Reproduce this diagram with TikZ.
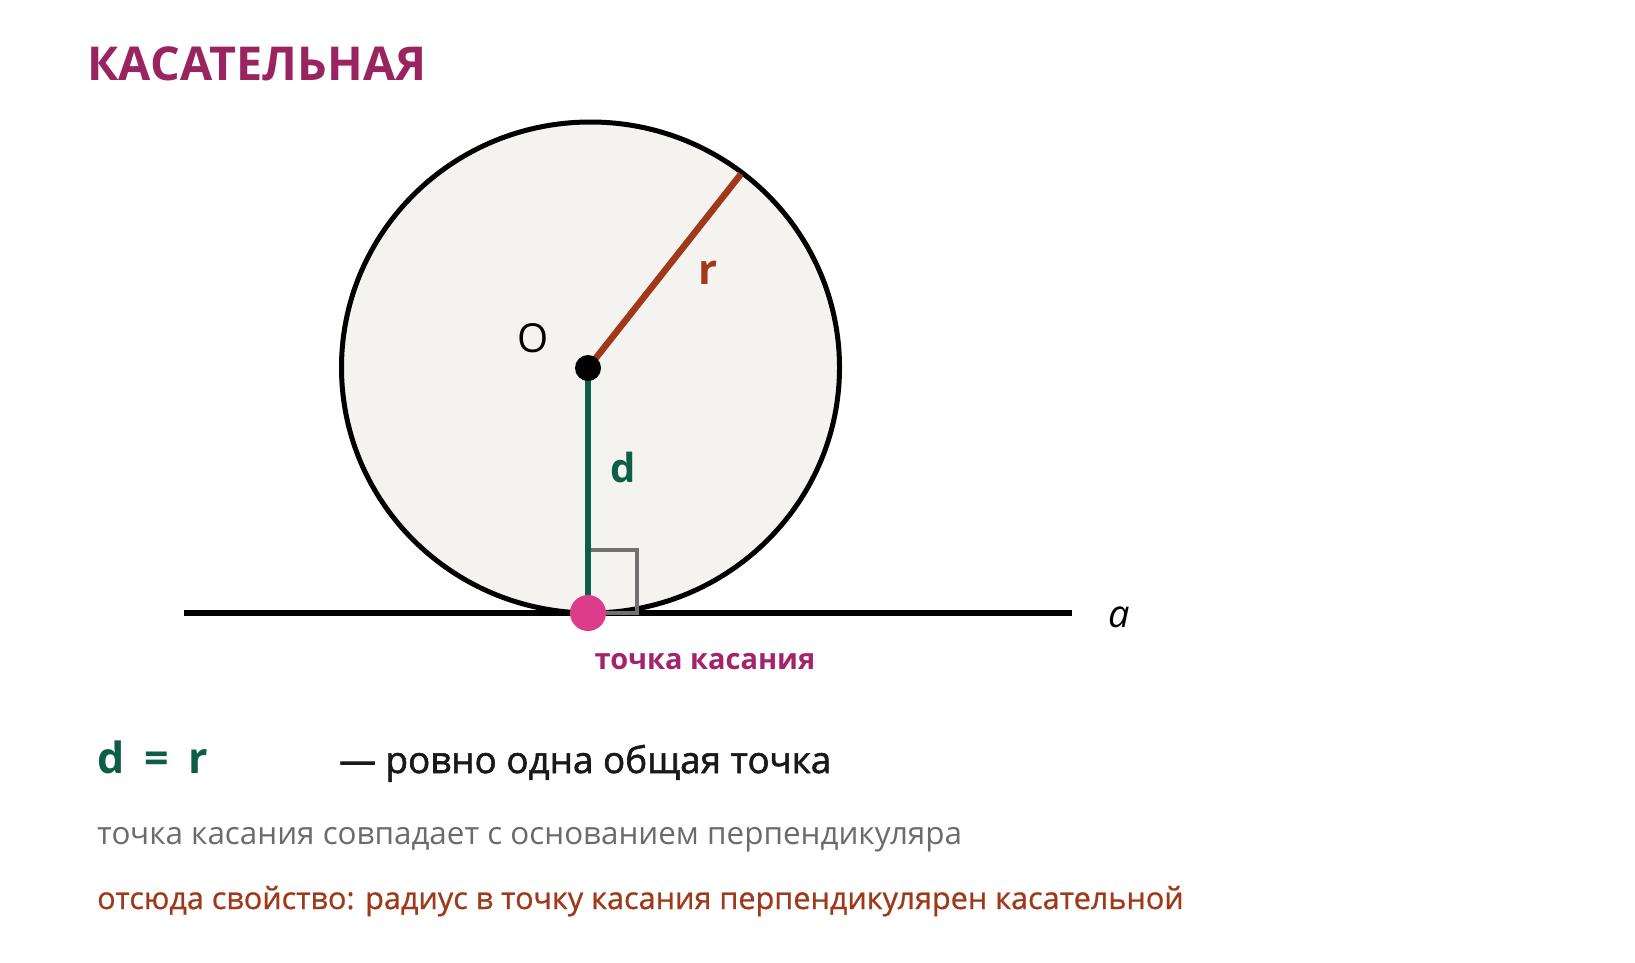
\documentclass[tikz,border=0pt]{standalone}
\usepackage{fontspec}
\setmainfont{Open Sans}
\newfontfamily\medfont[FakeBold=1.6]{Open Sans}
\newfontfamily\semifont[FakeBold=0.8]{Open Sans}
\definecolor{titlec}{HTML}{9A2460}
\definecolor{pinkc}{HTML}{DD3C8A}
\definecolor{labelc}{HTML}{A3246A}
\definecolor{greenc}{HTML}{0C5E46}
\definecolor{rustc}{HTML}{A0391A}
\definecolor{grayt}{HTML}{6B6B6B}
\definecolor{fillc}{HTML}{F4F3F0}
\definecolor{sqc}{HTML}{707070}
\tikzset{
  txt/.style={inner sep=0pt, anchor=base west},
  txtc/.style={inner sep=0pt, anchor=base},
}
\begin{document}
\begin{tikzpicture}[x=1pt,y=-1pt]
\useasboundingbox[fill=white] (0,0) rectangle (1635,962);
% geometry
\coordinate (O) at (588,368);
\coordinate (T) at (588,613);
\coordinate (R) at (741,174);
\coordinate (L1) at (184,613);
\coordinate (L2) at (1072,613);
\draw[line width=5pt, fill=fillc] (590.5,367.5) ellipse[x radius=249, y radius=245.5];
\draw[line width=6pt] (L1) -- (L2);
\draw[line width=4pt, sqc] (588,550) rectangle (637,613);
\draw[line width=6.5pt, rustc] (O) -- (R);
\draw[line width=6.5pt, greenc] (O) -- (T);
\fill (O) circle[radius=13];
\fill[pinkc] (T) circle[radius=18];
% labels
\node[txtc, font=\fontsize{40}{40}\selectfont] (lO) at (533,352) {O};
\node[txtc, font=\fontsize{42}{42}\selectfont\bfseries, text=rustc] (lr) at (708,284) {r};
\node[txtc, font=\fontsize{40}{40}\selectfont\bfseries, text=greenc] (ld) at (623,482) {d};
\node[txtc, font=\fontsize{38}{38}\selectfont\itshape] (la) at (1119,627) {a};
\node[txtc, font=\fontsize{29}{29}\selectfont\bfseries, text=labelc] (lt) at (705,669) {точка касания};
% title and text
\node[txt, font=\fontsize{46.7}{46.7}\selectfont\bfseries, text=titlec] (title) at (87,80) {КАСАТЕЛЬНАЯ};
\node[txt, font=\fontsize{43}{43}\selectfont\bfseries, text=greenc] (eq) at (97,773) {d\hspace{0.46em}=\hspace{0.46em}r};
\node[txt, font=\fontsize{36.8}{36.8}\selectfont\medfont, text=black!90] (one) at (339,773) {— ровно одна общая точка};
\node[txt, font=\fontsize{31.4}{31.4}\selectfont, text=grayt] (g) at (97,844) {точка касания совпадает с основанием перпендикуляра};
\node[txt, font=\fontsize{30.6}{30.6}\selectfont\semifont, text=rustc] (p) at (97,909) {отсюда свойство: радиус в точку касания перпендикулярен касательной};
\end{tikzpicture}
\end{document}
